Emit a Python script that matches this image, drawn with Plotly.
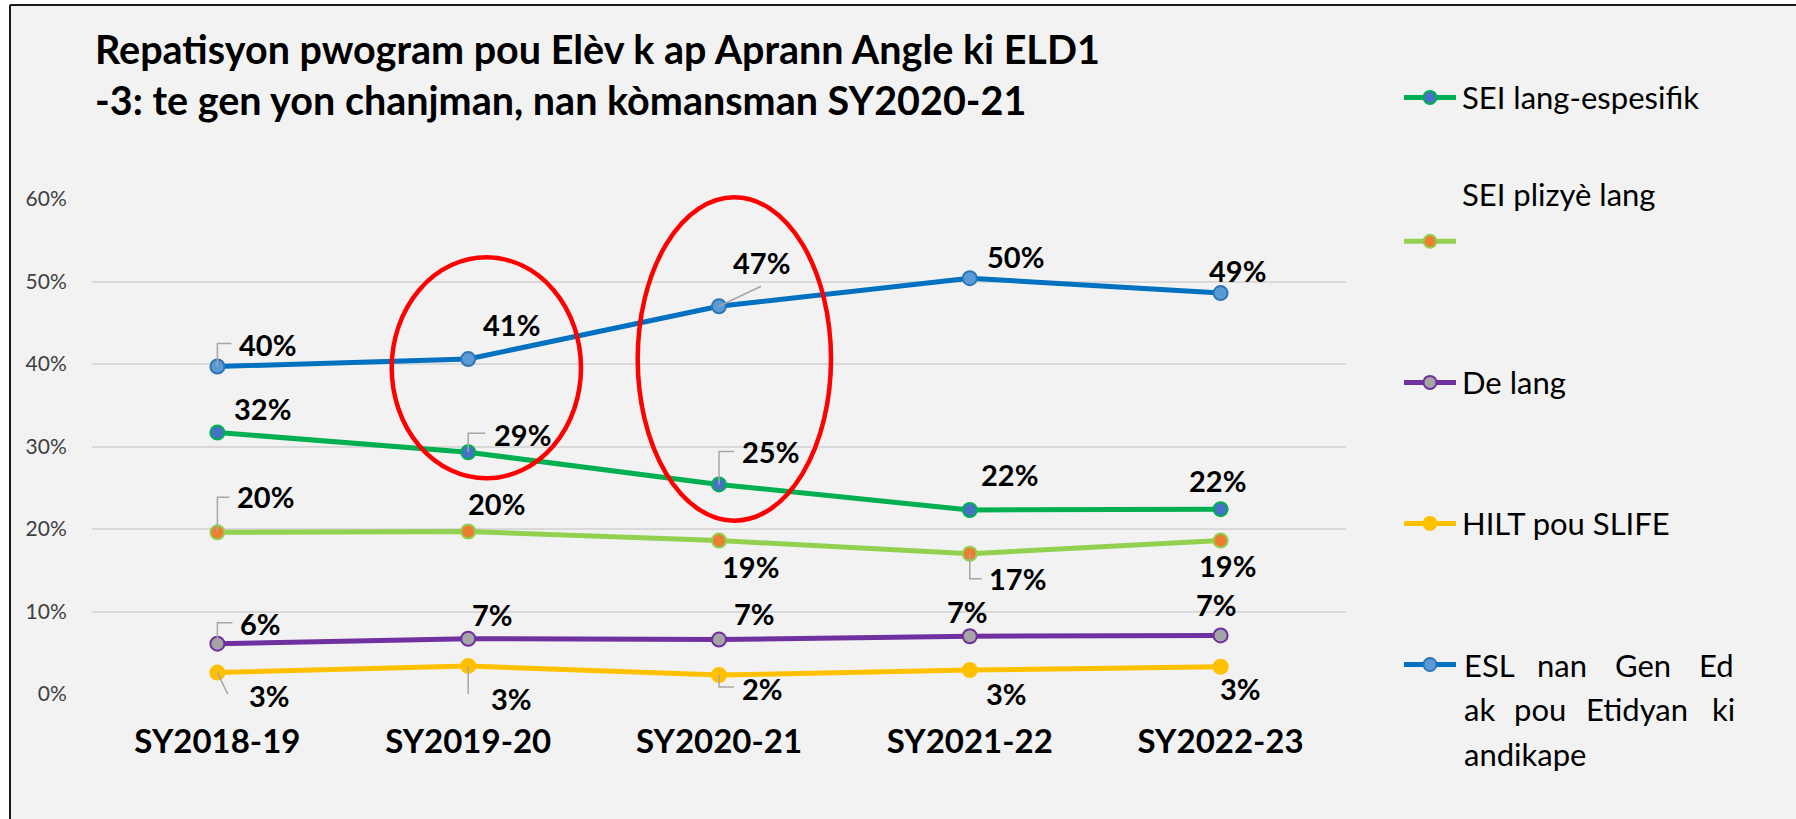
import plotly.graph_objects as go

# data
years = ["SY2018-19", "SY2019-20", "SY2020-21", "SY2021-22", "SY2022-23"]
sei_lang = [0.317, 0.293, 0.254, 0.223, 0.224]
sei_pliz = [0.196, 0.197, 0.186, 0.170, 0.186]
de_lang = [0.061, 0.067, 0.066, 0.070, 0.071]
hilt = [0.026, 0.034, 0.023, 0.029, 0.033]
esl = [0.397, 0.406, 0.470, 0.504, 0.486]

names = ["SEI lang-espesifik", "SEI plizyè lang", "De lang", "HILT pou SLIFE",
         "ESL nan Gen Ed ak pou Etidyan ki andikape"]
series = [sei_lang, sei_pliz, de_lang, hilt, esl]

# line colour, marker fill, marker border
styles = [("#00B050", "#4472C4", "#00B050"),
          ("#92D050", "#ED7D31", "#92D050"),
          ("#7030A0", "#A5A5A5", "#7030A0"),
          ("#FFC000", "#FFC000", "#FFC000"),
          ("#0070C0", "#5B9BD5", "#2E75B6")]

# data label offsets from the marker, screen px (dx, dy with dy down)
label_off = [
    [(45, -24), (54, -18), (51, -33), (40, -36), (-3, -29)],
    [(48, -36), (28, -28), (31, 26), (48, 25), (7, 25)],
    [(43, -20), (24, -24), (35, -26), (-2, -25), (-4, -31)],
    [(52, 23), (43, 33), (43, 13), (37, 23), (20, 22)],
    [(50, -22), (43, -35), (42, -44), (46, -22), (17, -23)],
]
# leader lines (series, point, path in px, dy down)
leaders = [
    (4, 0, [(0, 0), (0, -23), (14, -23)]),
    (4, 2, [(0, 0), (42, -20)]),
    (0, 1, [(0, 0), (0, -19), (17, -19)]),
    (0, 2, [(0, 0), (0, -33), (15, -33)]),
    (1, 0, [(0, 0), (0, -35), (12, -35)]),
    (1, 3, [(0, 0), (0, 25), (12, 25)]),
    (2, 0, [(0, 0), (0, -21), (15, -21)]),
    (3, 0, [(0, 0), (11, 23), (23, 23)]),
    (3, 1, [(0, 0), (0, 32), (15, 32)]),
    (3, 2, [(0, 0), (0, 12), (15, 12)]),
]

FONT = "Lato"
W, H = 1796, 819
L, R, T, B = 92, 450, 199, 125
PW, PH = W - L - R, H - T - B


def px(x):
    return (x - L) / PW


def py(y):
    return (H - B - y) / PH


fig = go.Figure()
for name, vals, (lc, mc, ml) in zip(names, series, styles):
    fig.add_trace(go.Scatter(
        x=years, y=vals, name=name, mode="lines+markers",
        line=dict(color=lc, width=5),
        marker=dict(size=14, color=mc, line=dict(color=ml, width=2)),
        showlegend=False, hoverinfo="skip"))

annotations = []
shapes = []
for s, vals in enumerate(series):
    for i, v in enumerate(vals):
        dx, dy = label_off[s][i]
        annotations.append(dict(
            x=years[i], y=v, xref="x", yref="y", text=f"<b>{v:.0%}</b>",
            showarrow=False, xshift=dx, yshift=-dy,
            font=dict(family=FONT, size=29, color="black")))

for s, i, pts in leaders:
    path = "M" + " L".join(f"{x},{-y}" for x, y in pts)
    shapes.append(dict(type="path", xref="x", yref="y", xsizemode="pixel",
                       ysizemode="pixel", xanchor=i, yanchor=series[s][i],
                       path=path, line=dict(color="#A6A6A6", width=1.5)))

# red ellipses
for x0, x1, y0, y1 in [(391.7, 581, 478.3, 257.3), (637.7, 831, 520.7, 197.3)]:
    shapes.append(dict(type="circle", xref="paper", yref="paper",
                       x0=px(x0), x1=px(x1), y0=py(y0), y1=py(y1),
                       line=dict(color="#FF0000", width=4.5)))

# chart box: grey fill, dark top and left edges, white outside
shapes.append(dict(type="rect", xref="paper", yref="paper",
                   x0=px(10), x1=px(W + 50), y0=py(H + 50), y1=py(5),
                   fillcolor="#F2F2F2", line=dict(width=0), layer="below"))
shapes.append(dict(type="line", xref="paper", yref="paper",
                   x0=px(10), x1=px(W + 50), y0=py(5), y1=py(5),
                   line=dict(color="#1a1a1a", width=2)))
shapes.append(dict(type="line", xref="paper", yref="paper",
                   x0=px(10), x1=px(10), y0=py(5), y1=py(H + 50),
                   line=dict(color="#1a1a1a", width=2)))

# manual legend
leg_sym_y = [97.4, 241.3, 382.4, 523.4, 664.5]
for (lc, mc, ml), ys in zip(styles, leg_sym_y):
    shapes.append(dict(type="line", xref="paper", yref="paper",
                       x0=px(1404), x1=px(1456), y0=py(ys), y1=py(ys),
                       line=dict(color=lc, width=5)))
    shapes.append(dict(type="circle", xref="paper", yref="paper",
                       xsizemode="pixel", ysizemode="pixel",
                       xanchor=px(1430), yanchor=py(ys),
                       x0=-6.5, x1=6.5, y0=-6.5, y1=6.5,
                       fillcolor=mc, line=dict(color=ml, width=2)))

# legend text; the last entry is justified, so its words are placed one by one
leg_words = [
    ("SEI lang-espesifik", 1460, 97.4),
    ("SEI plizyè lang", 1460, 193.6),
    ("De lang", 1460, 382.4),
    ("HILT pou SLIFE", 1460, 523.4),
    ("ESL", 1462, 664.5), ("nan", 1535, 664.5),
    ("Gen", 1613, 664.5), ("Ed", 1697, 664.5),
    ("ak", 1462, 708.5), ("pou", 1512, 708.5),
    ("Etidyan", 1584, 708.5), ("ki", 1710, 708.5),
    ("andikape", 1462, 753.5),
]
for txt, xs, ys in leg_words:
    annotations.append(dict(
        x=px(xs), y=py(ys), xref="paper", yref="paper", text=txt,
        xanchor="left", yanchor="middle", showarrow=False,
        font=dict(family=FONT, size=31, color="black")))

fig.update_layout(
    width=W, height=H,
    margin=dict(l=L, r=R, t=T, b=B),
    paper_bgcolor="white", plot_bgcolor="#F2F2F2",
    title=dict(
        text="<b>Repatisyon pwogram pou Elèv k ap Aprann Angle ki ELD1"
             "<br>-3: te gen yon chanjman, nan kòmansman SY2020-21</b>",
        x=95 / W, xanchor="left", xref="container",
        y=1 - 64 / H, yanchor="middle", yref="container",
        font=dict(family=FONT, size=39.5, color="black")),
    xaxis=dict(type="category", range=[-0.5, len(years) - 0.5],
               showgrid=False, zeroline=False, showline=False,
               ticks="outside", ticklen=18, tickcolor="rgba(0,0,0,0)",
               tickfont=dict(family=FONT, size=33, color="black"),
               tickprefix="<b>", ticksuffix="</b>"),
    yaxis=dict(range=[0, 0.6], dtick=0.1, tickformat=".0%",
               showgrid=True, gridcolor="#D9D9D9", gridwidth=2,
               zeroline=False, showline=False,
               ticks="outside", ticklen=20, tickcolor="rgba(0,0,0,0)",
               tickfont=dict(family=FONT, size=21, color="#404040")),
    annotations=annotations,
    shapes=shapes,
)

fig.write_html("out.html", config={"displayModeBar": False},
               post_script="document.documentElement.style.overflow='hidden';"
                           "document.body.style.overflow='hidden';"
                           "document.body.style.margin='0';")
